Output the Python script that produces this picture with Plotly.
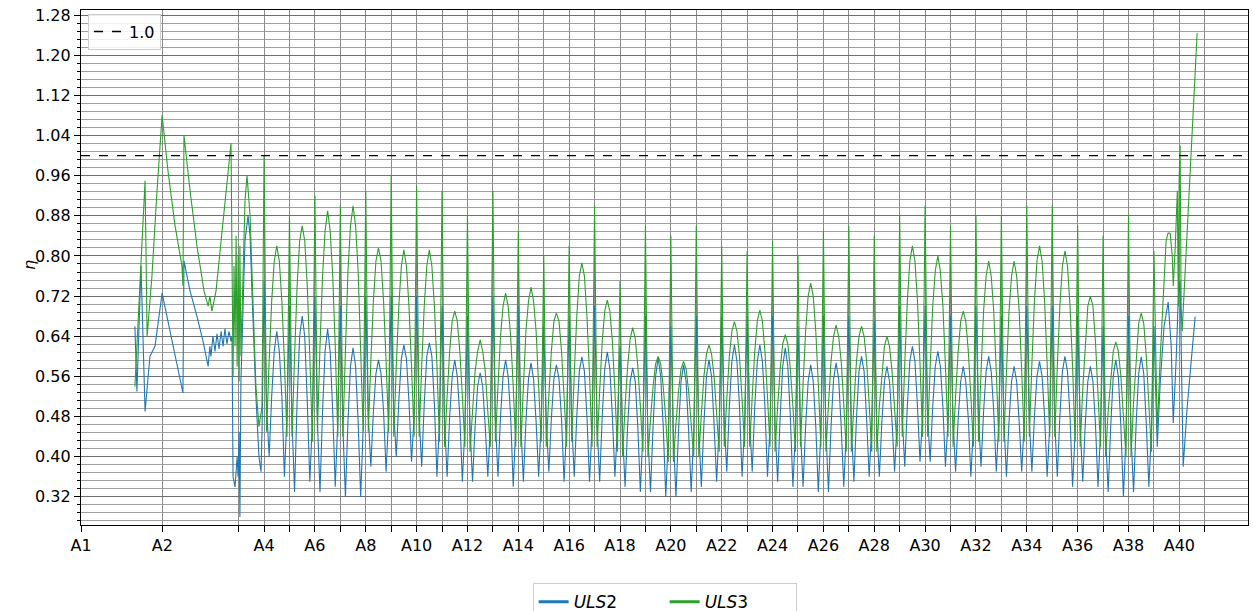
import plotly.graph_objects as go

# ---------------- data ----------------
SUPPORT_LABELS = ["A%d" % i for i in range(1, 42)]
SUPPORT_POS = [0.0, 3.2, 6.2, 7.2, 8.2, 9.2, 10.2, 11.2, 12.2, 13.2, 14.2, 15.2,
               16.2, 17.2, 18.2, 19.2, 20.2, 21.2, 22.2, 23.2, 24.2, 25.2, 26.2,
               27.2, 28.2, 29.2, 30.2, 31.2, 32.2, 33.2, 34.2, 35.2, 36.2, 37.2,
               38.2, 39.2, 40.2, 41.2, 42.2, 43.2, 44.2]
TICK_TEXT = ["A1", "A2"] + [("A%d" % i if i % 2 == 0 else "") for i in range(3, 42)]
THRESHOLD = 1.0

# sample points inside each regular span (fraction of span length)
SPAN_FRACTIONS = [0.0, 0.1, 0.2, 0.3, 0.4, 0.5, 0.6, 0.7, 0.8, 0.9]
FIRST_REGULAR_SPAN = 3  # index of A4 in SUPPORT_POS

# ULS2 start (before A4)
ULS2_HEAD_X = [2.12, 2.20, 2.36, 2.52, 2.71, 2.91, 3.19, 3.58, 4.01, 4.05, 4.29, 4.56,
               4.80, 5.00, 5.07, 5.11, 5.19, 5.27, 5.35, 5.43, 5.51, 5.59, 5.66, 5.74,
               5.82, 5.90, 5.94, 5.98, 6.06, 6.14, 6.18, 6.22, 6.25, 6.29, 6.37, 6.45,
               6.57, 6.65, 6.73, 6.88, 7.00, 7.08, 7.12]
ULS2_HEAD_Y = [0.66, 0.53, 0.78, 0.49, 0.60, 0.62, 0.726, 0.63, 0.527, 0.79, 0.73, 0.68,
               0.63, 0.58, 0.62, 0.60, 0.64, 0.61, 0.645, 0.615, 0.65, 0.62, 0.655, 0.625,
               0.65, 0.63, 0.64, 0.36, 0.34, 0.40, 0.36, 0.45, 0.28, 0.55, 0.72, 0.83,
               0.88, 0.84, 0.72, 0.52, 0.40, 0.37, 0.45]
# ULS3 start (before A4)
ULS3_HEAD_X = [2.12, 2.52, 2.60, 2.79, 2.99, 3.19, 3.42, 3.70, 3.97, 4.01, 4.05, 4.29,
               4.56, 4.84, 5.00, 5.07, 5.15, 5.23, 5.31, 5.47, 5.66, 5.90, 5.98, 6.02,
               6.06, 6.10, 6.14, 6.18, 6.22, 6.25, 6.29, 6.37, 6.45, 6.53, 6.65, 6.77,
               6.88, 7.00, 7.12]
ULS3_HEAD_Y = [0.54, 0.95, 0.64, 0.76, 0.93, 1.08, 0.97, 0.86, 0.78, 0.74, 1.04, 0.93,
               0.82, 0.73, 0.70, 0.72, 0.69, 0.71, 0.73, 0.81, 0.90, 1.025, 0.56, 0.78,
               0.62, 0.84, 0.58, 0.80, 0.55, 0.82, 0.60, 0.78, 0.91, 0.96, 0.88, 0.70,
               0.54, 0.46, 0.50]

# regular spans A4-A5 ... A38-A39, values at SPAN_FRACTIONS
ULS2_SPANS = [
    [0.75, 0.50, 0.40, 0.52, 0.61, 0.65, 0.61, 0.52, 0.36, 0.48],
    [0.70, 0.47, 0.33, 0.51, 0.64, 0.68, 0.64, 0.51, 0.35, 0.47],
    [0.72, 0.47, 0.33, 0.49, 0.61, 0.655, 0.61, 0.49, 0.34, 0.47],
    [0.70, 0.46, 0.32, 0.47, 0.58, 0.617, 0.58, 0.47, 0.32, 0.46],
    [0.72, 0.48, 0.38, 0.49, 0.565, 0.593, 0.565, 0.49, 0.37, 0.48],
    [0.72, 0.49, 0.40, 0.51, 0.595, 0.623, 0.595, 0.51, 0.39, 0.48],
    [0.72, 0.48, 0.38, 0.505, 0.60, 0.627, 0.60, 0.505, 0.36, 0.47],
    [0.70, 0.47, 0.36, 0.48, 0.56, 0.593, 0.56, 0.48, 0.35, 0.46],
    [0.68, 0.46, 0.35, 0.46, 0.54, 0.567, 0.54, 0.46, 0.36, 0.46],
    [0.72, 0.47, 0.36, 0.48, 0.56, 0.593, 0.56, 0.48, 0.34, 0.46],
    [0.70, 0.46, 0.35, 0.47, 0.555, 0.587, 0.555, 0.47, 0.36, 0.47],
    [0.66, 0.47, 0.37, 0.475, 0.555, 0.583, 0.555, 0.475, 0.35, 0.46],
    [0.68, 0.47, 0.36, 0.48, 0.57, 0.599, 0.57, 0.48, 0.35, 0.46],
    [0.70, 0.46, 0.35, 0.48, 0.575, 0.609, 0.575, 0.48, 0.36, 0.46],
    [0.62, 0.45, 0.34, 0.46, 0.55, 0.577, 0.55, 0.46, 0.33, 0.45],
    [0.68, 0.44, 0.33, 0.46, 0.56, 0.597, 0.56, 0.46, 0.32, 0.44],
    [0.66, 0.44, 0.32, 0.45, 0.55, 0.583, 0.55, 0.45, 0.33, 0.45],
    [0.68, 0.45, 0.34, 0.465, 0.56, 0.593, 0.56, 0.465, 0.35, 0.46],
    [0.68, 0.47, 0.37, 0.50, 0.59, 0.623, 0.59, 0.50, 0.36, 0.46],
    [0.68, 0.47, 0.37, 0.50, 0.59, 0.623, 0.59, 0.50, 0.36, 0.46],
    [0.68, 0.46, 0.35, 0.48, 0.58, 0.617, 0.58, 0.48, 0.34, 0.45],
    [0.66, 0.45, 0.34, 0.46, 0.55, 0.583, 0.55, 0.46, 0.33, 0.45],
    [0.68, 0.45, 0.33, 0.46, 0.555, 0.587, 0.555, 0.46, 0.34, 0.45],
    [0.68, 0.46, 0.35, 0.475, 0.57, 0.60, 0.57, 0.475, 0.36, 0.46],
    [0.67, 0.46, 0.36, 0.47, 0.55, 0.58, 0.55, 0.47, 0.37, 0.47],
    [0.70, 0.48, 0.38, 0.50, 0.59, 0.62, 0.59, 0.50, 0.39, 0.48],
    [0.70, 0.48, 0.39, 0.50, 0.58, 0.61, 0.58, 0.50, 0.38, 0.47],
    [0.68, 0.47, 0.37, 0.475, 0.55, 0.58, 0.55, 0.475, 0.36, 0.46],
    [0.70, 0.48, 0.38, 0.49, 0.57, 0.60, 0.57, 0.49, 0.37, 0.47],
    [0.68, 0.47, 0.36, 0.47, 0.55, 0.58, 0.55, 0.47, 0.37, 0.47],
    [0.70, 0.47, 0.37, 0.48, 0.56, 0.59, 0.56, 0.48, 0.36, 0.46],
    [0.70, 0.47, 0.36, 0.48, 0.57, 0.60, 0.57, 0.48, 0.34, 0.45],
    [0.68, 0.46, 0.35, 0.465, 0.55, 0.58, 0.55, 0.465, 0.34, 0.45],
    [0.66, 0.44, 0.33, 0.46, 0.56, 0.593, 0.56, 0.46, 0.32, 0.44],
    [0.68, 0.44, 0.33, 0.465, 0.565, 0.599, 0.565, 0.465, 0.34, 0.45],
]
ULS3_SPANS = [
    [1.00, 0.45, 0.59, 0.71, 0.79, 0.82, 0.79, 0.71, 0.59, 0.44],
    [0.88, 0.44, 0.60, 0.74, 0.83, 0.86, 0.83, 0.74, 0.60, 0.43],
    [0.92, 0.45, 0.62, 0.76, 0.85, 0.89, 0.85, 0.76, 0.62, 0.44],
    [0.90, 0.44, 0.61, 0.77, 0.86, 0.90, 0.86, 0.77, 0.61, 0.45],
    [0.93, 0.45, 0.59, 0.71, 0.79, 0.816, 0.79, 0.71, 0.59, 0.45],
    [0.96, 0.44, 0.58, 0.70, 0.78, 0.812, 0.78, 0.70, 0.58, 0.44],
    [0.94, 0.44, 0.58, 0.70, 0.78, 0.812, 0.78, 0.70, 0.58, 0.43],
    [0.93, 0.42, 0.52, 0.61, 0.67, 0.69, 0.67, 0.61, 0.52, 0.42],
    [0.88, 0.41, 0.49, 0.57, 0.61, 0.633, 0.61, 0.57, 0.49, 0.42],
    [0.93, 0.43, 0.54, 0.64, 0.70, 0.726, 0.70, 0.64, 0.54, 0.42],
    [0.85, 0.42, 0.54, 0.65, 0.71, 0.738, 0.71, 0.65, 0.54, 0.43],
    [0.80, 0.42, 0.52, 0.61, 0.67, 0.686, 0.67, 0.61, 0.52, 0.42],
    [0.82, 0.43, 0.565, 0.68, 0.76, 0.786, 0.76, 0.68, 0.565, 0.42],
    [0.90, 0.42, 0.53, 0.63, 0.69, 0.712, 0.69, 0.63, 0.53, 0.41],
    [0.75, 0.40, 0.50, 0.58, 0.635, 0.657, 0.635, 0.58, 0.50, 0.41],
    [0.86, 0.40, 0.475, 0.54, 0.585, 0.60, 0.585, 0.54, 0.475, 0.39],
    [0.84, 0.39, 0.465, 0.53, 0.575, 0.59, 0.575, 0.53, 0.465, 0.40],
    [0.86, 0.40, 0.485, 0.56, 0.605, 0.623, 0.605, 0.56, 0.485, 0.41],
    [0.82, 0.42, 0.515, 0.60, 0.65, 0.669, 0.65, 0.60, 0.515, 0.42],
    [0.81, 0.42, 0.52, 0.61, 0.67, 0.692, 0.67, 0.61, 0.52, 0.42],
    [0.83, 0.41, 0.50, 0.575, 0.625, 0.643, 0.625, 0.575, 0.50, 0.41],
    [0.80, 0.42, 0.545, 0.65, 0.72, 0.746, 0.72, 0.65, 0.545, 0.42],
    [0.85, 0.41, 0.505, 0.59, 0.64, 0.662, 0.64, 0.59, 0.505, 0.41],
    [0.86, 0.41, 0.505, 0.59, 0.64, 0.66, 0.64, 0.59, 0.505, 0.41],
    [0.84, 0.41, 0.50, 0.57, 0.62, 0.64, 0.62, 0.57, 0.50, 0.42],
    [0.88, 0.44, 0.585, 0.71, 0.79, 0.82, 0.79, 0.71, 0.585, 0.44],
    [0.90, 0.44, 0.58, 0.70, 0.77, 0.80, 0.77, 0.70, 0.58, 0.44],
    [0.86, 0.42, 0.52, 0.61, 0.67, 0.69, 0.67, 0.61, 0.52, 0.42],
    [0.88, 0.43, 0.57, 0.69, 0.76, 0.79, 0.76, 0.69, 0.57, 0.43],
    [0.88, 0.43, 0.57, 0.69, 0.76, 0.79, 0.76, 0.69, 0.57, 0.43],
    [0.90, 0.44, 0.585, 0.71, 0.79, 0.82, 0.79, 0.71, 0.585, 0.44],
    [0.90, 0.44, 0.58, 0.70, 0.78, 0.81, 0.78, 0.70, 0.58, 0.43],
    [0.86, 0.42, 0.535, 0.63, 0.70, 0.72, 0.70, 0.63, 0.535, 0.42],
    [0.84, 0.40, 0.49, 0.56, 0.61, 0.629, 0.61, 0.56, 0.49, 0.40],
    [0.88, 0.40, 0.51, 0.60, 0.665, 0.686, 0.665, 0.60, 0.51, 0.41],
]

# end (from A39)
ULS2_TAIL_X = [42.2, 42.33, 42.45, 42.60, 42.76, 42.88, 42.96, 43.08, 43.16, 43.23,
               43.31, 43.35, 43.51, 43.67, 43.82]
ULS2_TAIL_Y = [0.66, 0.42, 0.55, 0.66, 0.708, 0.62, 0.467, 0.60, 0.72, 0.75,
               0.45, 0.38, 0.50, 0.60, 0.679]
ULS3_TAIL_X = [42.2, 42.33, 42.45, 42.56, 42.68, 42.76, 42.84, 42.92, 42.96, 43.04,
               43.12, 43.16, 43.19, 43.23, 43.27, 43.31, 43.51, 43.71, 43.90]
ULS3_TAIL_Y = [0.81, 0.45, 0.60, 0.72, 0.83, 0.846, 0.845, 0.80, 0.74, 0.82,
               0.93, 0.70, 0.95, 1.02, 0.70, 0.65, 0.85, 1.05, 1.244]


def assemble(head_x, head_y, spans, tail_x, tail_y):
    xs, ys = list(head_x), list(head_y)
    for i, row in enumerate(spans):
        a = SUPPORT_POS[FIRST_REGULAR_SPAN + i]
        b = SUPPORT_POS[FIRST_REGULAR_SPAN + i + 1]
        for f, v in zip(SPAN_FRACTIONS, row):
            xs.append(a + f * (b - a))
            ys.append(v)
    xs += tail_x
    ys += tail_y
    return xs, ys


x2, y2 = assemble(ULS2_HEAD_X, ULS2_HEAD_Y, ULS2_SPANS, ULS2_TAIL_X, ULS2_TAIL_Y)
x3, y3 = assemble(ULS3_HEAD_X, ULS3_HEAD_Y, ULS3_SPANS, ULS3_TAIL_X, ULS3_TAIL_Y)

BLUE = "#1f77b4"
GREEN = "#2ca02c"
X_RANGE = [0.0, 45.9]
Y_RANGE = [0.264, 1.29]

fig = go.Figure()
fig.add_trace(go.Scatter(x=x2, y=y2, mode="lines", line=dict(color=BLUE, width=1.1),
                         showlegend=False, hoverinfo="skip"))
fig.add_trace(go.Scatter(x=x3, y=y3, mode="lines", line=dict(color=GREEN, width=1.1),
                         showlegend=False, hoverinfo="skip"))
# legend entries
fig.add_trace(go.Scatter(x=[None], y=[None], mode="lines", name="<i>ULS</i>2",
                         line=dict(color=BLUE, width=3), legend="legend"))
fig.add_trace(go.Scatter(x=[None], y=[None], mode="lines", name="<i>ULS</i>3",
                         line=dict(color=GREEN, width=3), legend="legend"))
fig.add_trace(go.Scatter(x=[None], y=[None], mode="lines", name="1.0",
                         line=dict(color="black", width=1.3, dash="dash"), legend="legend2"))

fig.add_shape(type="line", xref="paper", x0=0, x1=1, yref="y", y0=THRESHOLD, y1=THRESHOLD,
              line=dict(color="black", width=1.3, dash="dash"), layer="above")

# y-axis label
fig.add_annotation(text="<i>η</i>", xref="paper", yref="paper", x=-0.0437, y=0.505,
                   xanchor="center", yanchor="middle", showarrow=False, textangle=-90,
                   font=dict(size=16, color="black"))

fig.update_xaxes(range=X_RANGE, tickmode="array", tickvals=SUPPORT_POS, ticktext=TICK_TEXT,
                 showgrid=True, gridcolor="#8c8c8c", gridwidth=1,
                 ticks="outside", ticklen=6, tickcolor="black",
                 showline=True, linecolor="black", linewidth=1.2, mirror=True,
                 zeroline=False, tickfont=dict(size=16))
fig.update_yaxes(range=Y_RANGE, tick0=0.32, dtick=0.08, tickformat=".2f",
                 showgrid=True, gridcolor="#6e6e6e", gridwidth=1.2,
                 ticks="outside", ticklen=6, tickcolor="black",
                 minor=dict(tick0=0.32, dtick=0.016, showgrid=True, gridcolor="#a0a0a0",
                            gridwidth=1, ticks="outside", ticklen=3, tickcolor="black"),
                 showline=True, linecolor="black", linewidth=1.2, mirror=True,
                 zeroline=False, tickfont=dict(size=16))

fig.update_layout(
    width=1253, height=611,
    margin=dict(l=81, r=5, t=10, b=86, autoexpand=False),
    plot_bgcolor="white", paper_bgcolor="white",
    font=dict(family="DejaVu Sans", size=16, color="black"),
    legend=dict(orientation="h", x=0.387, xanchor="left", y=-0.113, yanchor="top",
                bordercolor="#cccccc", borderwidth=1, bgcolor="white",
                entrywidth=86, entrywidthmode="pixels",
                font=dict(size=17)),
    legend2=dict(x=0.006, y=0.993, xanchor="left", yanchor="top",
                 bordercolor="#cccccc", borderwidth=1, bgcolor="rgba(255,255,255,0.85)",
                 font=dict(size=16)),
)

fig.write_html("out.html")
